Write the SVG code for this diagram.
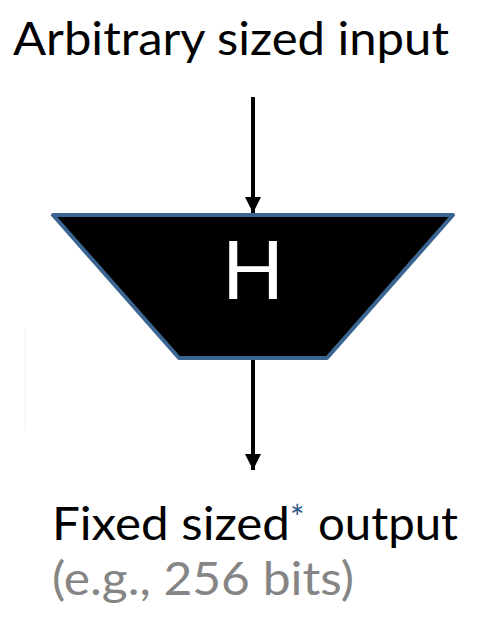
<svg xmlns="http://www.w3.org/2000/svg" width="498" height="640" viewBox="0 0 498 640">
<style>
.lbl{font-family:Lato,"Noto Sans","Liberation Sans",sans-serif;font-size:46px;fill:#000}
.sub{fill:#858585}
.conn{stroke:#000;stroke-width:4;fill:none}
</style>
<defs>
<marker id="ah" viewBox="0 0 10 10" refX="10" refY="5" markerWidth="4.3" markerHeight="4" markerUnits="strokeWidth" orient="auto">
<path d="M0,0 L10,5 L0,10 Z" fill="#000"/>
</marker>
</defs>
<rect width="498" height="640" fill="#fff"/>
<line x1="25" y1="328" x2="25" y2="430" stroke="#f2eeee" stroke-width="1"/>
<g id="input-label">
<text class="lbl" x="13" y="55" textLength="436" lengthAdjust="spacingAndGlyphs">Arbitrary sized input</text>
</g>
<g id="hash">
<polygon points="53,215 453,215 327,358 179,358" fill="#000" stroke="#3b6591" stroke-width="4" stroke-linejoin="round"/>
<text x="253" y="299" text-anchor="middle" font-family="Lato,'Noto Sans','Liberation Sans',sans-serif" font-size="82" fill="#fff">H</text>
</g>
<g id="connectors">
<line class="conn" x1="253" y1="97" x2="253" y2="213" marker-end="url(#ah)"/>
<line class="conn" x1="253" y1="360" x2="253" y2="470" marker-end="url(#ah)"/>
</g>
<g id="output-label">
<text class="lbl" x="52" y="540" textLength="238" lengthAdjust="spacingAndGlyphs">Fixed sized</text>
<text x="290" y="530" font-family="Lato,'Noto Sans','Liberation Sans',sans-serif" font-size="34" fill="#2f5a8a">*</text>
<text class="lbl" x="318" y="540" textLength="140" lengthAdjust="spacingAndGlyphs">output</text>
<text class="lbl sub" x="52" y="595" textLength="302" lengthAdjust="spacingAndGlyphs">(e.g., 256 bits)</text>
</g>
</svg>
